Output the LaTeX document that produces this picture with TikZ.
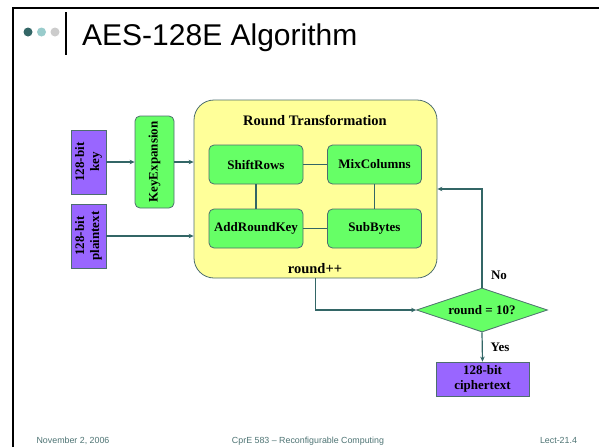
\documentclass[tikz,border=0pt]{standalone}
\usepackage{fontspec}
\setmainfont{Liberation Serif}
\newfontfamily\slidefont{Liberation Sans}
\usetikzlibrary{shapes.geometric,arrows.meta}
\definecolor{wire}{HTML}{336666}
\definecolor{edge}{HTML}{4D6E6E}
\definecolor{purp}{HTML}{9966FF}
\definecolor{grn}{HTML}{66FF66}
\definecolor{pale}{HTML}{FFFF99}
\definecolor{dotA}{HTML}{336666}
\definecolor{dotB}{HTML}{99CCCC}
\definecolor{dotC}{HTML}{CCCCCC}
\definecolor{foot}{HTML}{4D7373}
\tikzset{
  lbl/.style={font=\bfseries\fontsize{13}{15}\selectfont, align=center, inner sep=0pt},
  bigl/.style={font=\bfseries\fontsize{14.5}{16}\selectfont, inner sep=0pt},
  purpbox/.style={lbl, draw=edge, line width=0.8pt, fill=purp},
  grnbox/.style={lbl, draw=edge, line width=0.8pt, fill=grn, rounded corners=5pt},
  conn/.style={draw=wire, line width=1.2pt},
  arr/.style={conn, -{Stealth[length=5pt,width=4.5pt]}},
  footer/.style={font=\slidefont\fontsize{8.85}{10}\selectfont, text=foot, inner sep=0pt, anchor=base}
}
\begin{document}
\begin{tikzpicture}[x=1pt,y=-1pt]
\useasboundingbox (0,0) rectangle (599,447);
% slide frame
\draw[line width=2.6pt] (13,447) -- (13,8) -- (599,8);
% header bullets and bar
\fill[dotA] (28,32) circle (4.5);
\fill[dotB] (41.5,32) circle (4.5);
\fill[dotC] (55,32) circle (4.5);
\draw[line width=1.8pt] (66,12) -- (66,55);
\node[font=\slidefont\fontsize{30}{34}\selectfont, anchor=base west, inner sep=0pt] (title) at (82,45) {AES-128E Algorithm};

% inputs
\node[purpbox, rotate=90, minimum width=64pt, minimum height=35pt] (key) at (88.5,162) {128-bit\\key};
\node[purpbox, rotate=90, minimum width=64pt, minimum height=35pt] (pt) at (88.5,236) {128-bit\\plaintext};
\node[grnbox, rotate=90, minimum width=92pt, minimum height=39pt] (kexp) at (154.5,162) {KeyExpansion};

% round transformation block
\node[draw=edge, line width=0.8pt, fill=pale, rounded corners=20pt, minimum width=243pt, minimum height=178pt, inner sep=0pt] (rt) at (315.5,189) {};
\node[bigl] (rtl) at (315,120) {Round Transformation};
\node[bigl] (inc) at (315,269) {round++};
\node[grnbox, minimum width=94pt, minimum height=39pt] (sr) at (256,164.5) {ShiftRows};
\node[grnbox, minimum width=94pt, minimum height=39pt] (mc) at (374.5,164.5) {MixColumns};
\node[grnbox, minimum width=94pt, minimum height=39pt] (ark) at (256,228.5) {AddRoundKey};
\node[grnbox, minimum width=94pt, minimum height=39pt] (sb) at (374.5,228.5) {SubBytes};
\draw[conn] (sr) -- (mc);
\draw[conn] (sr) -- (ark);
\draw[conn] (mc) -- (sb);
\draw[conn] (ark) -- (sb);

% decision and output
\node[draw=edge, line width=0.8pt, fill=grn, diamond, aspect=2.98, minimum width=131pt, minimum height=44pt, inner sep=0pt, font=\bfseries\fontsize{13}{15}\selectfont] (dec) at (482,310) {round = 10?};
\node[purpbox, minimum width=93pt, minimum height=34pt] (ct) at (482.5,379) {128-bit\\ciphertext};
\node[lbl] (no) at (499,275) {No};
\node[lbl] (yes) at (500,347) {Yes};

% connectors
\draw[arr] (key) -- (kexp);
\draw[arr] (kexp) -- (kexp -| rt.west);
\draw[arr] (pt) -- (pt -| rt.west);
\draw[arr] (rt.south) |- (dec.west);
\draw[arr] (dec.north) |- (rt.east);
\draw[arr] (dec.south) -- (ct.north);

% footer
\node[footer] (date) at (73,443) {November 2, 2006};
\node[footer] (course) at (308,443) {CprE 583 – Reconfigurable Computing};
\node[footer] (lect) at (558.5,443) {Lect-21.4};
\end{tikzpicture}
\end{document}
